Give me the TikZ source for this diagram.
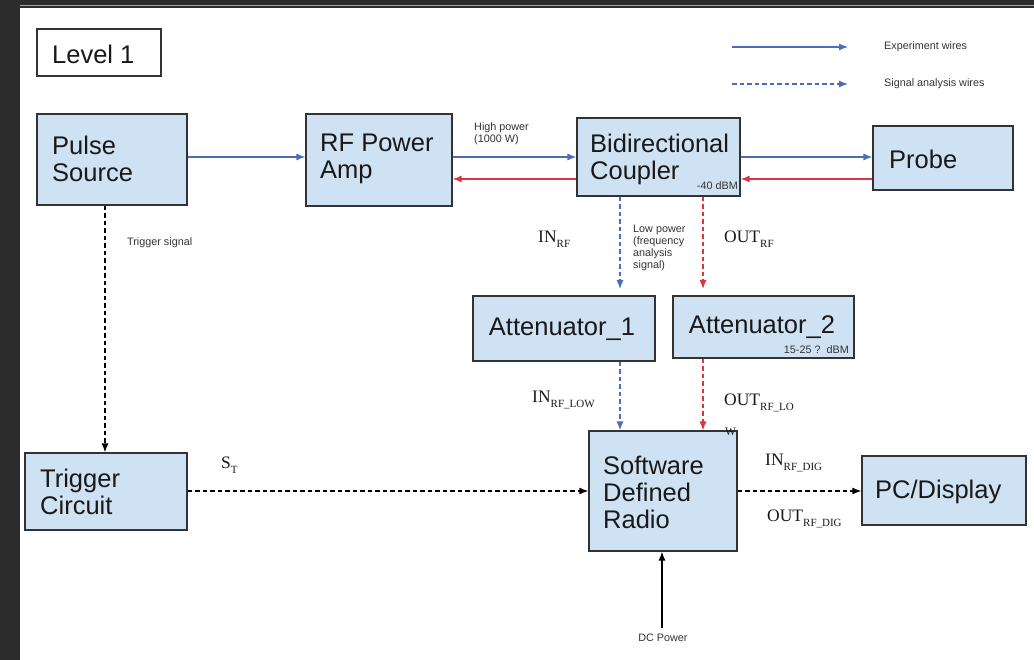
\documentclass[tikz,border=0pt]{standalone}
\usepackage{fontspec}
\setmainfont{Liberation Sans}
\newfontfamily\serifff{Liberation Serif}
\usetikzlibrary{arrows.meta}
\definecolor{boxfill}{HTML}{CFE2F3}
\definecolor{boxline}{HTML}{333333}
\definecolor{wblue}{HTML}{4A6DB8}
\definecolor{wred}{HTML}{DF3340}
\definecolor{darkbg}{HTML}{2B2B2B}
\newcommand\sublbl[2]{{\serifff\fontsize{17.5}{17.5}\selectfont #1\raisebox{-5pt}{\fontsize{11}{11}\selectfont #2}}}
\tikzset{
  boxnode/.style={draw=boxline, line width=1.2pt, fill=boxfill, inner sep=0pt},
  bigtxt/.style={font=\fontsize{25.5}{27}\selectfont, align=left, inner sep=0pt, text=black!90},
  smalltxt/.style={font=\fontsize{10.8}{12}\selectfont, align=left, inner sep=0pt, text=black!80},
  serlbl/.style={inner sep=0pt, text=black!90},
  tip/.style={-{Latex[length=9pt,width=7pt]}},
  wire/.style={tip, line width=1.2pt},
  dsh/.style={dash pattern=on 4.5pt off 3pt},
}
\begin{document}
\begin{tikzpicture}[x=1pt,y=-1pt]
\useasboundingbox (0,0) rectangle (1034,660);
\fill[darkbg] (0,0) rectangle (1034,660);
\fill[white] (20,8) rectangle (1034,660);
\draw[gray!70, line width=1pt] (20,6) -- (1034,6);

% Level 1
\node[draw=boxline, line width=1.2pt, fill=white, minimum width=124pt, minimum height=47pt, inner sep=0pt] (lvl) at (99,52.5) {};
\node[bigtxt, anchor=west] (lvlt) at (52,54) {Level 1};

% Legend
\coordinate (lg1a) at (732,47); \coordinate (lg1b) at (848,47);
\coordinate (lg2a) at (732,84); \coordinate (lg2b) at (848,84);
\draw[wire, wblue] (lg1a) -- (lg1b);
\draw[wire, wblue, dsh] (lg2a) -- (lg2b);
\node[smalltxt, anchor=west] (lgt1) at (884,47) {Experiment wires};
\node[smalltxt, anchor=west] (lgt2) at (884,84) {Signal analysis wires};

% Boxes
\node[boxnode, minimum width=150pt, minimum height=91pt] (ps) at (112,159.5) {};
\node[bigtxt, anchor=west] (pst) at (52,159) {Pulse\\Source};

\node[boxnode, minimum width=146pt, minimum height=92pt] (rf) at (379,160) {};
\node[bigtxt, anchor=west] (rft) at (320,159) {RF Power\\Amp};

\node[boxnode, minimum width=163pt, minimum height=78pt] (bc) at (658.5,157) {};
\node[bigtxt, anchor=west] (bct) at (590,159) {Bidirectional\\Coupler};
\node[smalltxt, anchor=east] (bcdb) at (738,186) {-40 dBM};

\node[boxnode, minimum width=140pt, minimum height=64pt] (pr) at (943,158) {};
\node[bigtxt, anchor=west] (prt) at (889,159) {Probe};

\node[boxnode, minimum width=182pt, minimum height=65pt] (a1) at (564,328.5) {};
\node[bigtxt] (a1t) at (562,329) {Attenuator\_1};

\node[boxnode, minimum width=181pt, minimum height=62pt] (a2) at (763.5,327) {};
\node[bigtxt] (a2t) at (762,327) {Attenuator\_2};
\node[smalltxt, anchor=east] (a2db) at (849,350) {15-25 ?\ \ dBM};

\node[boxnode, minimum width=162pt, minimum height=77pt] (tc) at (106,491.5) {};
\node[bigtxt, anchor=west] (tct) at (40,492) {Trigger\\Circuit};

\node[boxnode, minimum width=148pt, minimum height=120pt] (sdr) at (663,491) {};
\node[bigtxt, anchor=west] (sdrt) at (603,492) {Software\\Defined\\Radio};

\node[boxnode, minimum width=164pt, minimum height=69pt] (pc) at (944,490.5) {};
\node[bigtxt, anchor=west] (pct) at (875,492) {PC/Display};

% Experiment wires
\draw[wire, wblue] (ps.east |- 0,157) -- (rf.west |- 0,157);
\draw[wire, wblue] (rf.east |- 0,157) -- (bc.west |- 0,157);
\draw[wire, wred] (bc.west |- 0,179) -- (rf.east |- 0,179);
\draw[wire, wblue] (bc.east |- 0,157) -- (pr.west |- 0,157);
\draw[wire, wred] (pr.west |- 0,179) -- (bc.east |- 0,179);
\node[smalltxt, anchor=west] (hp) at (474,134) {High power\\(1000 W)};

% Signal analysis wires
\coordinate (a1top) at (620,289);
\coordinate (a2top) at (703,289);
\draw[wire, wblue, dsh] (bc.south -| 620,0) -- (a1top);
\draw[wire, wred, dsh] (bc.south -| 703,0) -- (a2top);
\draw[wire, wblue, dsh] (a1.south -| 620,0) -- (sdr.north -| 620,0);
\draw[wire, wred, dsh] (a2.south -| 703,0) -- (sdr.north -| 703,0);
\node[smalltxt, anchor=west] (lp) at (633,248) {Low power\\(frequency\\analysis\\signal)};

\draw[wire, black, dsh] (ps.south -| 105,0) -- (tc.north -| 105,0);
\node[smalltxt, anchor=west] (tsig) at (127,243) {Trigger signal};
\draw[wire, black, dsh] (tc.east |- 0,491) -- (sdr.west |- 0,491);
\draw[wire, black, dsh] (sdr.east |- 0,491) -- (pc.west |- 0,491);

\coordinate (dcb) at (662,628);
\draw[wire, black] (dcb) -- (sdr.south -| 662,0);
\node[smalltxt] (dct) at (663,638) {DC Power};

% Serif labels
\node[serlbl, anchor=west] (inrf) at (538,239) {\sublbl{IN}{RF}};
\node[serlbl, anchor=west] (outrf) at (724,239) {\sublbl{OUT}{RF}};
\node[serlbl, anchor=west] (inrfl) at (532,400) {\sublbl{IN}{RF\_LOW}};
\node[serlbl, anchor=west] (outrfl) at (724,403) {\sublbl{OUT}{RF\_LO}};
\node[serlbl, anchor=west, font=\serifff\fontsize{11.5}{11.5}\selectfont] (outw) at (725,432) {W};
\node[serlbl, anchor=west] (st) at (221,465) {\sublbl{S}{T}};
\node[serlbl, anchor=west] (indig) at (765,463) {\sublbl{IN}{RF\_DIG}};
\node[serlbl, anchor=west] (outdig) at (767,519) {\sublbl{OUT}{RF\_DIG}};
\end{tikzpicture}
\end{document}
